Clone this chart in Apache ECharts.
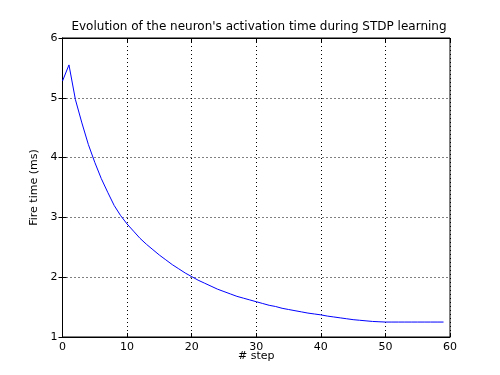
<!DOCTYPE html>
<html>
<head>
<meta charset="utf-8">
<script src="https://cdn.jsdelivr.net/npm/echarts@6/dist/echarts.min.js"></script>
<style>html,body{margin:0;padding:0;background:#fff}#c{width:500px;height:375px}</style>
</head>
<body>
<div id="c"></div>
<script>
var titleText = "Evolution of the neuron's activation time during STDP learning";
var xLabel = "# step";
var yLabel = "Fire time (ms)";
var steps = [];
for (var i = 0; i < 60; i++) steps.push(i);
var fireTime = [
  5.28, 5.55, 4.97, 4.58, 4.22, 3.92, 3.65, 3.42, 3.20, 3.03,
  2.89, 2.77, 2.65, 2.55, 2.46, 2.37, 2.29, 2.21, 2.14, 2.07,
  2.01, 1.95, 1.90, 1.85, 1.80, 1.76, 1.72, 1.68, 1.65, 1.62,
  1.59, 1.56, 1.53, 1.51, 1.48, 1.46, 1.44, 1.42, 1.40, 1.385,
  1.37, 1.35, 1.335, 1.32, 1.305, 1.29, 1.28, 1.27, 1.26, 1.255,
  1.25, 1.25, 1.25, 1.25, 1.25, 1.25, 1.25, 1.25, 1.25, 1.25
];
var xTicks = [0, 10, 20, 30, 40, 50, 60];
var yTicks = [1, 2, 3, 4, 5, 6];

var font = "DejaVu Sans";
var chart = echarts.init(document.getElementById('c'), null, {renderer: 'canvas'});
var data = steps.map(function (s, k) { return [s, fireTime[k]]; });
var gridLine = {show: true, lineStyle: {color: '#000', type: [1, 3], width: 1}};
chart.setOption({
  animation: false,
  backgroundColor: '#fff',
  title: {
    text: titleText, left: 254, top: 16, textAlign: 'center',
    textStyle: {fontFamily: font, fontSize: 12, fontWeight: 'normal', color: '#000'}
  },
  grid: {left: 62.5, right: 50, top: 38, bottom: 38, show: true, borderColor: '#000', borderWidth: 1, backgroundColor: 'transparent'},
  xAxis: [{
    type: 'value', min: xTicks[0], max: xTicks[xTicks.length - 1], interval: 10,
    name: xLabel, nameLocation: 'middle', nameGap: 14, nameMoveOverlap: false,
    nameTextStyle: {fontFamily: font, fontSize: 11, color: '#000'},
    axisLine: {show: true, lineStyle: {color: '#000'}},
    axisTick: {show: true, inside: true, length: 4, lineStyle: {color: '#000'}},
    axisLabel: {fontFamily: font, fontSize: 11, color: '#000', margin: 5},
    splitLine: gridLine
  }, {
    type: 'value', position: 'top', min: xTicks[0], max: xTicks[xTicks.length - 1], interval: 10,
    axisLine: {show: true, lineStyle: {color: '#000'}},
    axisTick: {show: true, inside: true, length: 4, lineStyle: {color: '#000'}},
    axisLabel: {show: false}, splitLine: {show: false}
  }],
  yAxis: [{
    type: 'value', min: yTicks[0], max: yTicks[yTicks.length - 1], interval: 1,
    name: yLabel, nameLocation: 'middle', nameGap: 16, nameRotate: 90,
    nameTextStyle: {fontFamily: font, fontSize: 11, color: '#000'},
    axisLine: {show: true, lineStyle: {color: '#000'}},
    axisTick: {show: true, inside: true, length: 4, lineStyle: {color: '#000'}},
    axisLabel: {fontFamily: font, fontSize: 11, color: '#000', margin: 5},
    splitLine: gridLine
  }, {
    type: 'value', position: 'right', min: yTicks[0], max: yTicks[yTicks.length - 1], interval: 1,
    axisLine: {show: true, lineStyle: {color: '#000'}},
    axisTick: {show: true, inside: true, length: 4, lineStyle: {color: '#000'}},
    axisLabel: {show: false}, splitLine: {show: false}
  }],
  series: [{
    type: 'line', data: data, showSymbol: false, symbol: 'none',
    lineStyle: {color: '#0000ff', width: 1}, smooth: false
  }]
});
</script>
</body>
</html>
